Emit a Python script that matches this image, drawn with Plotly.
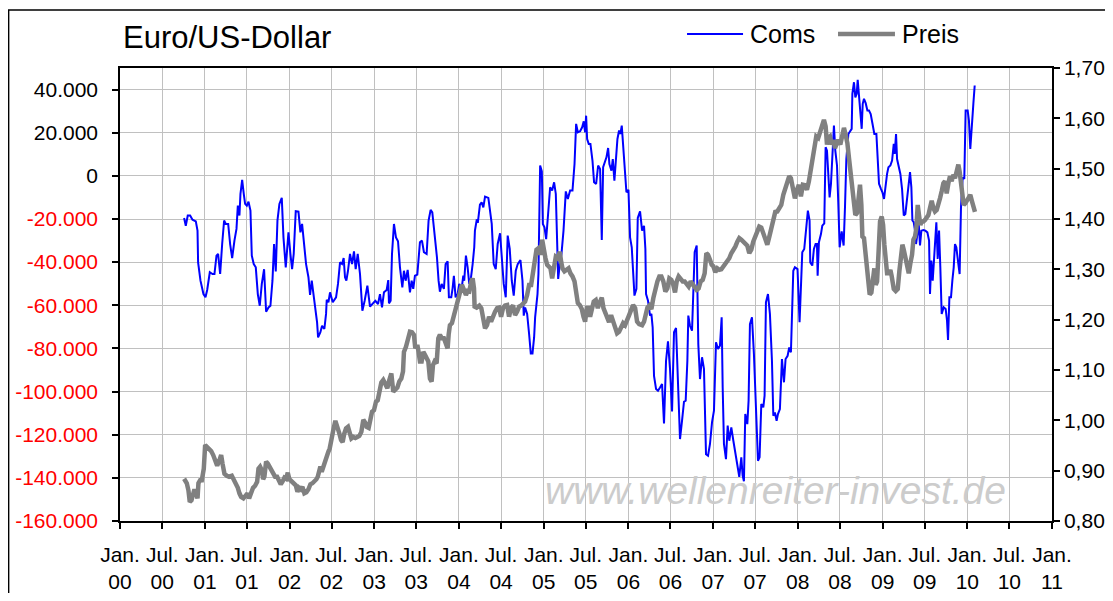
"""Euro/US-Dollar: Commitments (Coms) gegen Preis, Wochenwerte."""

import datetime as dt

import plotly.graph_objects as go

# Coms: Zeitpunkt als Dezimaljahr, Wert in Tausend Kontrakten
coms_year = [
    2000.755, 2000.775, 2000.798, 2000.826, 2000.854, 2000.893, 2000.913, 2000.920, 2000.948, 2000.983,
    2001.007, 2001.027, 2001.058, 2001.090, 2001.113, 2001.137, 2001.156, 2001.180, 2001.204, 2001.227,
    2001.247, 2001.275, 2001.298, 2001.322, 2001.349, 2001.373, 2001.389, 2001.408, 2001.420, 2001.440,
    2001.459, 2001.475, 2001.495, 2001.515, 2001.538, 2001.554, 2001.577, 2001.601, 2001.625, 2001.648,
    2001.672, 2001.699, 2001.723, 2001.751, 2001.774, 2001.798, 2001.817, 2001.837, 2001.857, 2001.880,
    2001.908, 2001.928, 2001.955, 2001.987, 2002.010, 2002.030, 2002.049, 2002.073, 2002.105, 2002.128,
    2002.148, 2002.175, 2002.195, 2002.223, 2002.242, 2002.262, 2002.286, 2002.309, 2002.325, 2002.337,
    2002.364, 2002.384, 2002.411, 2002.431, 2002.439, 2002.459, 2002.478, 2002.510, 2002.549, 2002.572,
    2002.596, 2002.620, 2002.639, 2002.655, 2002.671, 2002.690, 2002.714, 2002.738, 2002.761, 2002.781,
    2002.805, 2002.832, 2002.860, 2002.887, 2002.919, 2002.950, 2002.982, 2003.013, 2003.045, 2003.068,
    2003.092, 2003.115, 2003.147, 2003.166, 2003.174, 2003.194, 2003.210, 2003.233, 2003.257, 2003.281,
    2003.304, 2003.332, 2003.351, 2003.371, 2003.395, 2003.422, 2003.442, 2003.461, 2003.481, 2003.509,
    2003.540, 2003.564, 2003.587, 2003.619, 2003.642, 2003.666, 2003.686, 2003.713, 2003.741, 2003.760,
    2003.776, 2003.796, 2003.823, 2003.843, 2003.867, 2003.882, 2003.910, 2003.926, 2003.941, 2003.961,
    2003.985, 2004.004, 2004.032, 2004.052, 2004.063, 2004.083, 2004.103, 2004.122, 2004.138, 2004.162,
    2004.181, 2004.189, 2004.209, 2004.225, 2004.248, 2004.268, 2004.288, 2004.308, 2004.347, 2004.387,
    2004.410, 2004.434, 2004.457, 2004.485, 2004.505, 2004.528, 2004.552, 2004.575, 2004.599, 2004.623,
    2004.646, 2004.670, 2004.693, 2004.725, 2004.749, 2004.764, 2004.780, 2004.804, 2004.827, 2004.847,
    2004.867, 2004.886, 2004.898, 2004.926, 2004.937, 2004.949, 2004.957, 2004.977, 2004.989, 2005.008,
    2005.028, 2005.048, 2005.075, 2005.099, 2005.122, 2005.142, 2005.158, 2005.170, 2005.189, 2005.209,
    2005.233, 2005.260, 2005.284, 2005.311, 2005.339, 2005.363, 2005.382, 2005.402, 2005.429, 2005.453,
    2005.472, 2005.488, 2005.500, 2005.512, 2005.531, 2005.551, 2005.575, 2005.594, 2005.618, 2005.642,
    2005.665, 2005.685, 2005.701, 2005.716, 2005.740, 2005.760, 2005.775, 2005.799, 2005.815, 2005.834,
    2005.854, 2005.870, 2005.889, 2005.905, 2005.921, 2005.937, 2005.952, 2005.976, 2006.000, 2006.019,
    2006.039, 2006.055, 2006.071, 2006.094, 2006.110, 2006.137, 2006.161, 2006.184, 2006.200, 2006.208,
    2006.231, 2006.255, 2006.271, 2006.286, 2006.302, 2006.326, 2006.349, 2006.373, 2006.397, 2006.420,
    2006.444, 2006.467, 2006.491, 2006.515, 2006.538, 2006.562, 2006.586, 2006.609, 2006.633, 2006.656,
    2006.676, 2006.696, 2006.707, 2006.727, 2006.751, 2006.770, 2006.782, 2006.806, 2006.825, 2006.845,
    2006.869, 2006.892, 2006.916, 2006.940, 2006.963, 2006.987, 2007.010, 2007.034, 2007.058, 2007.081,
    2007.101, 2007.113, 2007.128, 2007.152, 2007.172, 2007.191, 2007.215, 2007.239, 2007.262, 2007.286,
    2007.309, 2007.333, 2007.349, 2007.364, 2007.380, 2007.404, 2007.419, 2007.435, 2007.459, 2007.482,
    2007.506, 2007.530, 2007.549, 2007.569, 2007.593, 2007.608, 2007.624, 2007.648, 2007.671, 2007.695,
    2007.711, 2007.730, 2007.750, 2007.766, 2007.789, 2007.813, 2007.837, 2007.856, 2007.880, 2007.899,
    2007.919, 2007.931, 2007.947, 2007.966, 2007.997, 2008.021, 2008.037, 2008.053, 2008.076, 2008.100,
    2008.119, 2008.139, 2008.147, 2008.171, 2008.190, 2008.210, 2008.226, 2008.234, 2008.249, 2008.273,
    2008.289, 2008.312, 2008.328, 2008.344, 2008.359, 2008.375, 2008.391, 2008.407, 2008.426, 2008.442,
    2008.462, 2008.477, 2008.493, 2008.517, 2008.540, 2008.556, 2008.572, 2008.596, 2008.619, 2008.635,
    2008.643, 2008.662, 2008.678, 2008.694, 2008.706, 2008.725, 2008.741, 2008.753, 2008.765, 2008.780,
    2008.800, 2008.820, 2008.839, 2008.859, 2008.879, 2008.902, 2008.926, 2008.942, 2008.957, 2008.981,
    2008.997, 2009.016, 2009.032, 2009.052, 2009.068, 2009.091, 2009.111, 2009.131, 2009.142, 2009.158,
    2009.170, 2009.190, 2009.209, 2009.229, 2009.249, 2009.268, 2009.292, 2009.308, 2009.323, 2009.339,
    2009.351, 2009.367, 2009.382, 2009.394, 2009.410, 2009.426, 2009.441, 2009.457, 2009.481, 2009.504,
    2009.528, 2009.548, 2009.559, 2009.575, 2009.591, 2009.607, 2009.618, 2009.634, 2009.650, 2009.666,
    2009.681, 2009.697, 2009.721, 2009.744, 2009.760, 2009.772, 2009.788, 2009.807, 2009.823, 2009.839,
    2009.854, 2009.870, 2009.894, 2009.909, 2009.925, 2009.945, 2009.964, 2009.980, 2010.004, 2010.019,
    2010.035, 2010.051, 2010.071, 2010.087,
]
coms_k = [
    -19.5, -23.1, -18.4, -18.4, -20.3, -21.1, -25.4, -40.1, -48.6, -54.8,
    -56.3, -52.9, -44.7, -45.5, -45.5, -37.0, -36.2, -45.5, -31.6, -20.7,
    -22.3, -22.3, -31.6, -38.1, -30.0, -24.6, -13.8, -18.4, -8.4, -1.9,
    -8.4, -13.0, -13.8, -12.0, -16.1, -37.0, -40.9, -42.4, -54.8, -60.2,
    -50.1, -43.3, -63.0, -61.0, -60.2, -48.6, -31.6, -44.3, -20.7, -13.0,
    -10.2, -28.5, -42.4, -26.2, -36.2, -43.3, -36.2, -16.4, -16.6, -26.2,
    -22.3, -31.6, -40.9, -47.0, -55.2, -48.6, -56.3, -62.5, -67.9, -74.9,
    -72.5, -69.5, -71.0, -64.0, -57.5, -58.6, -54.0, -58.6, -56.3, -50.1,
    -40.1, -40.9, -38.1, -47.0, -48.6, -44.0, -36.2, -40.9, -35.0, -43.2,
    -36.2, -45.5, -62.5, -57.9, -50.9, -60.6, -59.4, -57.9, -59.4, -54.8,
    -61.0, -54.0, -52.9, -48.3, -59.1, -57.9, -36.2, -22.3, -28.5, -30.3,
    -42.4, -51.7, -44.0, -48.6, -43.6, -54.0, -48.6, -52.4, -46.3, -45.8,
    -30.8, -30.0, -35.4, -36.2, -20.7, -15.8, -16.9, -27.0, -37.8, -48.6,
    -53.7, -50.1, -52.4, -40.9, -39.6, -56.3, -56.3, -52.0, -46.3, -56.3,
    -54.8, -50.1, -52.4, -46.3, -48.6, -37.0, -42.4, -50.1, -48.6, -40.9,
    -33.1, -25.4, -20.7, -21.1, -13.3, -12.3, -14.6, -9.6, -10.2, -22.3,
    -40.9, -43.2, -31.6, -26.6, -39.3, -50.1, -56.3, -27.7, -33.9, -48.6,
    -55.5, -44.0, -40.9, -39.0, -48.6, -64.8, -61.0, -64.0, -73.3, -82.3,
    -82.3, -74.9, -65.6, -54.8, -45.5, -23.8, 4.8, 2.1, -22.3, -23.8,
    -29.3, -19.2, -5.3, -6.8, -3.0, -8.4, -30.8, -47.8, -40.9, -36.2,
    -25.4, -7.2, -10.7, -6.8, -6.8, 5.5, 24.1, 20.2, 20.7, 22.5,
    25.3, 20.2, 27.9, 17.1, 14.8, 14.8, 7.1, -3.0, -3.7, 4.8,
    3.2, -29.7, 4.0, 5.8, 8.6, 12.9, 5.5, 2.4, 7.8, -2.2,
    10.9, 17.1, 21.0, 19.4, 23.3, 13.3, 4.0, -7.6, -6.5, -28.5,
    -33.1, -45.5, -55.5, -52.4, -19.5, -16.4, -25.4, -23.2, -33.9, -54.8,
    -57.9, -64.8, -64.0, -70.2, -92.7, -98.8, -99.6, -98.1, -96.5, -114.8,
    -85.7, -76.7, -89.5, -109.2, -72.5, -70.5, -96.5, -122.0, -113.5, -104.7,
    -104.2, -85.7, -64.8, -69.5, -71.8, -50.1, -35.4, -32.3, -78.0, -94.2,
    -84.1, -89.5, -129.0, -129.7, -124.3, -114.3, -108.9, -77.2, -80.3, -78.7,
    -65.6, -98.1, -124.3, -131.3, -115.8, -122.8, -116.6, -122.8, -129.0, -135.2,
    -139.5, -130.5, -139.0, -141.6, -110.4, -115.1, -104.2, -68.7, -65.6, -82.6,
    -108.9, -132.1, -130.5, -105.8, -107.3, -101.9, -58.6, -54.8, -64.0, -85.7,
    -111.2, -109.7, -113.5, -110.4, -108.1, -84.9, -95.7, -84.9, -83.4, -79.5,
    -81.8, -62.5, -44.0, -42.4, -43.2, -67.9, -48.6, -35.4, -33.9, -23.8,
    -16.1, -20.7, -40.1, -41.6, -33.9, -31.6, -31.6, -46.3, -30.8, -27.0,
    -23.1, -22.0, 13.3, 11.7, 0.9, -10.0, -3.7, 7.1, 23.3, 11.7,
    4.8, -12.3, -33.1, -25.7, -32.3, -14.6, 7.8, 19.4, 21.0, 21.8,
    38.0, 43.4, 36.4, 38.0, 44.5, 35.7, 30.3, 21.8, 33.4, 35.7,
    33.7, 30.3, 30.3, 28.7, 24.4, 19.4, 19.4, 8.6, -3.7, -6.1,
    -7.6, -10.7, -4.5, 0.9, 4.0, 4.8, 7.1, 14.8, 10.2, 19.4,
    7.8, 4.8, 0.9, -6.1, -18.4, -17.7, -8.4, -2.2, 1.7, -5.3,
    -20.7, -21.5, -25.4, -31.6, -25.4, -22.3, -32.3, -25.4, -25.1, -25.4,
    -26.2, -30.0, -54.8, -39.3, -48.6, -36.2, -28.2, -21.5, -38.5, -25.4,
    -42.4, -64.0, -60.9, -61.7, -67.1, -76.1, -56.3, -56.3, -48.6, -42.4,
    -31.6, -33.1, -40.9, -45.5, -14.6, -0.7, -1.4, 30.3, 30.3, 25.6,
    12.5, 20.2, 33.4, 41.9,
]

# Preis EUR/USD, Zeitpunkt als Dezimaljahr
preis_year = [
    2000.755, 2000.787, 2000.806, 2000.822, 2000.842, 2000.861, 2000.877, 2000.897, 2000.913, 2000.924,
    2000.944, 2000.964, 2000.987, 2001.003, 2001.027, 2001.050, 2001.074, 2001.098, 2001.121, 2001.145,
    2001.172, 2001.192, 2001.208, 2001.231, 2001.259, 2001.286, 2001.318, 2001.341, 2001.365, 2001.389,
    2001.408, 2001.428, 2001.455, 2001.479, 2001.503, 2001.522, 2001.546, 2001.569, 2001.593, 2001.617,
    2001.633, 2001.652, 2001.672, 2001.688, 2001.703, 2001.723, 2001.743, 2001.762, 2001.790, 2001.813,
    2001.829, 2001.853, 2001.876, 2001.896, 2001.916, 2001.939, 2001.959, 2001.979, 2001.998, 2002.026,
    2002.049, 2002.073, 2002.093, 2002.112, 2002.132, 2002.152, 2002.175, 2002.199, 2002.223, 2002.246,
    2002.270, 2002.293, 2002.317, 2002.333, 2002.348, 2002.364, 2002.380, 2002.400, 2002.419, 2002.439,
    2002.459, 2002.474, 2002.498, 2002.517, 2002.541, 2002.565, 2002.588, 2002.608, 2002.627, 2002.647,
    2002.667, 2002.690, 2002.710, 2002.730, 2002.753, 2002.777, 2002.801, 2002.824, 2002.848, 2002.871,
    2002.891, 2002.911, 2002.934, 2002.954, 2002.974, 2002.997, 2003.021, 2003.041, 2003.060, 2003.084,
    2003.107, 2003.131, 2003.155, 2003.178, 2003.202, 2003.225, 2003.249, 2003.273, 2003.296, 2003.320,
    2003.340, 2003.351, 2003.375, 2003.399, 2003.422, 2003.446, 2003.469, 2003.485, 2003.509, 2003.524,
    2003.540, 2003.560, 2003.580, 2003.599, 2003.619, 2003.639, 2003.658, 2003.678, 2003.694, 2003.713,
    2003.737, 2003.757, 2003.776, 2003.800, 2003.823, 2003.843, 2003.867, 2003.879, 2003.894, 2003.918,
    2003.938, 2003.957, 2003.973, 2003.993, 2004.012, 2004.036, 2004.060, 2004.083, 2004.103, 2004.122,
    2004.146, 2004.162, 2004.178, 2004.185, 2004.209, 2004.241, 2004.264, 2004.280, 2004.296, 2004.308,
    2004.332, 2004.355, 2004.379, 2004.402, 2004.426, 2004.450, 2004.473, 2004.497, 2004.520, 2004.544,
    2004.568, 2004.591, 2004.615, 2004.638, 2004.662, 2004.686, 2004.709, 2004.733, 2004.757, 2004.780,
    2004.804, 2004.827, 2004.851, 2004.871, 2004.890, 2004.914, 2004.937, 2004.961, 2004.981, 2005.000,
    2005.020, 2005.040, 2005.059, 2005.079, 2005.099, 2005.118, 2005.142, 2005.166, 2005.189, 2005.205,
    2005.221, 2005.244, 2005.268, 2005.292, 2005.315, 2005.339, 2005.363, 2005.382, 2005.402, 2005.425,
    2005.449, 2005.469, 2005.488, 2005.508, 2005.528, 2005.547, 2005.567, 2005.590, 2005.614, 2005.638,
    2005.665, 2005.685, 2005.705, 2005.724, 2005.748, 2005.771, 2005.795, 2005.819, 2005.842, 2005.866,
    2005.889, 2005.913, 2005.937, 2005.960, 2005.984, 2006.008, 2006.031, 2006.055, 2006.079, 2006.102,
    2006.126, 2006.137, 2006.161, 2006.184, 2006.200, 2006.224, 2006.247, 2006.271, 2006.294, 2006.318,
    2006.342, 2006.365, 2006.389, 2006.412, 2006.436, 2006.460, 2006.483, 2006.507, 2006.530, 2006.550,
    2006.570, 2006.593, 2006.617, 2006.641, 2006.664, 2006.688, 2006.711, 2006.735, 2006.759, 2006.782,
    2006.806, 2006.829, 2006.853, 2006.877, 2006.900, 2006.920, 2006.940, 2006.963, 2006.983, 2007.003,
    2007.026, 2007.050, 2007.073, 2007.097, 2007.120, 2007.144, 2007.168, 2007.191, 2007.215, 2007.239,
    2007.262, 2007.286, 2007.309, 2007.333, 2007.357, 2007.380, 2007.404, 2007.427, 2007.451, 2007.474,
    2007.498, 2007.522, 2007.545, 2007.569, 2007.593, 2007.616, 2007.640, 2007.664, 2007.687, 2007.711,
    2007.734, 2007.758, 2007.781, 2007.805, 2007.829, 2007.852, 2007.876, 2007.899, 2007.919, 2007.939,
    2007.966, 2007.990, 2008.013, 2008.037, 2008.060, 2008.084, 2008.108, 2008.131, 2008.147, 2008.171,
    2008.194, 2008.218, 2008.241, 2008.265, 2008.289, 2008.308, 2008.328, 2008.344, 2008.359, 2008.379,
    2008.399, 2008.418, 2008.438, 2008.458, 2008.477, 2008.501, 2008.525, 2008.544, 2008.564, 2008.584,
    2008.603, 2008.623, 2008.643, 2008.662, 2008.678, 2008.698, 2008.713, 2008.733, 2008.749, 2008.761,
    2008.780, 2008.796, 2008.816, 2008.831, 2008.847, 2008.867, 2008.883, 2008.902, 2008.918, 2008.934,
    2008.950, 2008.969, 2008.989, 2009.005, 2009.020, 2009.036, 2009.052, 2009.072, 2009.091, 2009.107,
    2009.131, 2009.154, 2009.178, 2009.197, 2009.217, 2009.233, 2009.249, 2009.268, 2009.288, 2009.308,
    2009.327, 2009.347, 2009.363, 2009.382, 2009.398, 2009.414, 2009.429, 2009.445, 2009.461, 2009.481,
    2009.500, 2009.520, 2009.540, 2009.559, 2009.579, 2009.599, 2009.618, 2009.638, 2009.658, 2009.677,
    2009.697, 2009.717, 2009.736, 2009.756, 2009.776, 2009.795, 2009.815, 2009.835, 2009.854, 2009.874,
    2009.894, 2009.909, 2009.925, 2009.941, 2009.957, 2009.976, 2009.996, 2010.016, 2010.035, 2010.055,
    2010.075, 2010.090,
]
preis = [
    0.884, 0.875, 0.861, 0.838, 0.841, 0.858, 0.863, 0.855, 0.845, 0.875,
    0.881, 0.881, 0.904, 0.951, 0.947, 0.941, 0.939, 0.931, 0.921, 0.910,
    0.921, 0.931, 0.914, 0.894, 0.890, 0.888, 0.890, 0.883, 0.875, 0.866,
    0.855, 0.848, 0.845, 0.850, 0.855, 0.845, 0.855, 0.866, 0.870, 0.878,
    0.904, 0.908, 0.901, 0.883, 0.888, 0.918, 0.914, 0.908, 0.901, 0.894,
    0.888, 0.888, 0.878, 0.873, 0.878, 0.886, 0.884, 0.896, 0.883, 0.878,
    0.877, 0.871, 0.858, 0.866, 0.863, 0.868, 0.855, 0.857, 0.863, 0.873,
    0.875, 0.878, 0.883, 0.888, 0.904, 0.908, 0.898, 0.910, 0.918, 0.932,
    0.938, 0.944, 0.971, 0.981, 0.999, 0.981, 0.974, 0.961, 0.957, 0.974,
    0.984, 0.987, 0.971, 0.964, 0.967, 0.965, 0.967, 0.969, 0.977, 1.001,
    0.996, 0.987, 0.985, 0.999, 1.017, 1.020, 1.037, 1.040, 1.060, 1.075,
    1.080, 1.070, 1.064, 1.080, 1.093, 1.057, 1.060, 1.065, 1.077, 1.083,
    1.097, 1.136, 1.146, 1.164, 1.176, 1.175, 1.170, 1.143, 1.150, 1.136,
    1.117, 1.117, 1.136, 1.130, 1.123, 1.117, 1.083, 1.077, 1.110, 1.117,
    1.113, 1.163, 1.170, 1.163, 1.163, 1.155, 1.143, 1.170, 1.189, 1.193,
    1.206, 1.226, 1.236, 1.243, 1.259, 1.269, 1.259, 1.249, 1.257, 1.256,
    1.276, 1.282, 1.262, 1.226, 1.224, 1.228, 1.223, 1.203, 1.186, 1.183,
    1.189, 1.206, 1.196, 1.209, 1.216, 1.223, 1.224, 1.206, 1.223, 1.228,
    1.229, 1.206, 1.224, 1.228, 1.209, 1.216, 1.226, 1.228, 1.233, 1.236,
    1.249, 1.269, 1.269, 1.296, 1.319, 1.339, 1.342, 1.329, 1.359, 1.335,
    1.322, 1.309, 1.306, 1.302, 1.282, 1.302, 1.325, 1.322, 1.335, 1.315,
    1.302, 1.296, 1.299, 1.302, 1.292, 1.286, 1.276, 1.256, 1.233, 1.229,
    1.221, 1.206, 1.196, 1.223, 1.223, 1.206, 1.223, 1.236, 1.239, 1.223,
    1.236, 1.244, 1.223, 1.213, 1.203, 1.195, 1.209, 1.196, 1.183, 1.173,
    1.176, 1.186, 1.193, 1.189, 1.203, 1.209, 1.219, 1.229, 1.223, 1.196,
    1.191, 1.191, 1.189, 1.196, 1.209, 1.224, 1.228, 1.221, 1.243, 1.262,
    1.276, 1.286, 1.286, 1.276, 1.256, 1.262, 1.282, 1.279, 1.269, 1.254,
    1.276, 1.286, 1.282, 1.276, 1.276, 1.269, 1.266, 1.276, 1.269, 1.262,
    1.259, 1.262, 1.276, 1.279, 1.292, 1.332, 1.329, 1.319, 1.309, 1.306,
    1.294, 1.302, 1.299, 1.300, 1.306, 1.309, 1.315, 1.322, 1.332, 1.337,
    1.345, 1.355, 1.362, 1.359, 1.355, 1.349, 1.347, 1.332, 1.339, 1.355,
    1.365, 1.375, 1.385, 1.383, 1.372, 1.355, 1.349, 1.365, 1.382, 1.402,
    1.414, 1.415, 1.422, 1.428, 1.448, 1.461, 1.478, 1.485, 1.481, 1.465,
    1.441, 1.458, 1.468, 1.445, 1.468, 1.467, 1.458, 1.475, 1.494, 1.518,
    1.548, 1.564, 1.561, 1.577, 1.591, 1.597, 1.584, 1.548, 1.561, 1.564,
    1.548, 1.557, 1.541, 1.548, 1.557, 1.548, 1.567, 1.581, 1.567, 1.551,
    1.521, 1.494, 1.461, 1.435, 1.408, 1.412, 1.448, 1.468, 1.428, 1.365,
    1.362, 1.329, 1.296, 1.282, 1.250, 1.254, 1.276, 1.302, 1.269, 1.276,
    1.329, 1.395, 1.405, 1.388, 1.349, 1.315, 1.292, 1.292, 1.299, 1.286,
    1.261, 1.257, 1.261, 1.296, 1.329, 1.349, 1.339, 1.325, 1.309, 1.292,
    1.312, 1.329, 1.359, 1.365, 1.382, 1.428, 1.408, 1.388, 1.395, 1.395,
    1.398, 1.405, 1.408, 1.422, 1.436, 1.422, 1.415, 1.418, 1.428, 1.441,
    1.455, 1.471, 1.475, 1.451, 1.471, 1.485, 1.475, 1.488, 1.481, 1.498,
    1.508, 1.494, 1.475, 1.455, 1.428, 1.431, 1.438, 1.441, 1.448, 1.435,
    1.418, 1.414,
]

# Achsen
x_tick_dates = [dt.date(2000 + i // 2, 1 if i % 2 == 0 else 7, 1) for i in range(23)]
x_tick_labels = [("Jan." if i % 2 == 0 else "Jul.") + "<br>" + f"{(i // 2) % 100:02d}" for i in range(23)]
left_ticks = [-160000, -140000, -120000, -100000, -80000, -60000, -40000, -20000, 0, 20000, 40000]
left_labels = ["-160.000", "-140.000", "-120.000", "-100.000", "-80.000", "-60.000",
               "-40.000", "-20.000", "0", "20.000", "40.000"]
right_ticks = [0.8, 0.9, 1.0, 1.1, 1.2, 1.3, 1.4, 1.5, 1.6, 1.7]
right_labels = ["0,80", "0,90", "1,00", "1,10", "1,20", "1,30", "1,40", "1,50", "1,60", "1,70"]

FONT = "Liberation Sans, Arial, sans-serif"
BLAU = "#0000ff"
GRAU = "#808080"


def year_to_date(y):
    """Dezimaljahr -> datetime."""
    yr = int(y)
    start = dt.datetime(yr, 1, 1)
    end = dt.datetime(yr + 1, 1, 1)
    return start + (end - start) * (y - yr)


fig = go.Figure()

fig.add_trace(go.Scatter(
    x=[year_to_date(y) for y in coms_year],
    y=[v * 1000 for v in coms_k],
    mode="lines",
    name="Coms",
    line=dict(color=BLAU, width=2),
))
fig.add_trace(go.Scatter(
    x=[year_to_date(y) for y in preis_year],
    y=preis,
    mode="lines",
    name="Preis",
    yaxis="y2",
    line=dict(color=GRAU, width=4.5),
))

# negative Werte links in rot
left_text = [
    f'<span style="color:#ff0000">{t}</span>' if v < 0 else t
    for v, t in zip(left_ticks, left_labels)
]

# die Seite hat 8px Rand: Groesse so, dass nichts ueberlaeuft
fig.update_layout(
    width=1105,
    height=585,
    margin=dict(l=112, r=61, t=60, b=72),
    paper_bgcolor="white",
    plot_bgcolor="white",
    font=dict(family=FONT, size=21, color="black"),
    title=dict(
        text="Euro/US-Dollar",
        x=115 / 1105, xanchor="left", xref="container",
        y=1 - 29 / 585, yanchor="middle", yref="container",
        font=dict(family=FONT, size=31, color="black"),
    ),
    # Legende von Hand (plotly-Legende verschiebt sonst den oberen Rand)
    showlegend=False,
    xaxis=dict(
        type="date",
        range=[dt.datetime(2000, 1, 1), dt.datetime(2011, 1, 1)],
        tickmode="array",
        tickvals=x_tick_dates,
        ticktext=x_tick_labels,
        showgrid=True, gridcolor="#c0c0c0", gridwidth=1,
        showline=True, linecolor="black", linewidth=1.5, mirror=True,
        ticks="outside", ticklen=6, tickcolor="black", tickwidth=1.5,
        ticklabelstandoff=8,
        tickfont=dict(size=21),
        zeroline=False,
        automargin=False,
    ),
    yaxis=dict(
        range=[-160000, 50000],
        tickmode="array",
        tickvals=left_ticks,
        ticktext=left_text,
        showgrid=True, gridcolor="#c0c0c0", gridwidth=1,
        showline=True, linecolor="black", linewidth=1.5,
        ticks="outside", ticklen=6, tickcolor="black", tickwidth=1.5,
        ticklabelstandoff=10,
        tickfont=dict(size=21),
        zeroline=False,
        automargin=False,
    ),
    yaxis2=dict(
        overlaying="y", side="right",
        range=[0.8, 1.7],
        tickmode="array",
        tickvals=right_ticks,
        ticktext=right_labels,
        showgrid=False,
        showline=True, linecolor="black", linewidth=1.5,
        ticks="outside", ticklen=6, tickcolor="black", tickwidth=1.5,
        ticklabelstandoff=0,
        tickfont=dict(size=21),
        zeroline=False,
        automargin=False,
    ),
)

# Legende: Linienstueck + Text
LEG_Y = 1.0751
for name, color, width, x0, x1, xt in [
    ("Coms", BLAU, 2, 0.6084, 0.6685, 0.6738),
    ("Preis", GRAU, 4.5, 0.7704, 0.8315, 0.8369),
]:
    fig.add_shape(
        type="line", xref="paper", yref="paper",
        x0=x0, x1=x1, y0=LEG_Y, y1=LEG_Y,
        line=dict(color=color, width=width),
    )
    fig.add_annotation(
        text=name, xref="paper", yref="paper",
        x=xt, y=LEG_Y, xanchor="left", yanchor="middle",
        showarrow=False,
        font=dict(family=FONT, size=25, color="black"),
    )

# Wasserzeichen
fig.add_annotation(
    text="<i>www.wellenreiter-invest.de</i>",
    xref="paper", yref="paper",
    x=0.703, y=0.068, xanchor="center", yanchor="middle",
    showarrow=False,
    font=dict(family=FONT, size=39, color="#cccccc"),
)

# Rahmen um das gesamte Diagramm
fig.add_shape(
    type="rect", xref="paper", yref="paper",
    x0=-0.1195, x1=1.0633, y0=-0.3, y1=1.128,
    line=dict(color="black", width=1.5),
    fillcolor="rgba(0,0,0,0)",
    layer="below",
)

fig.write_html("out.html")
